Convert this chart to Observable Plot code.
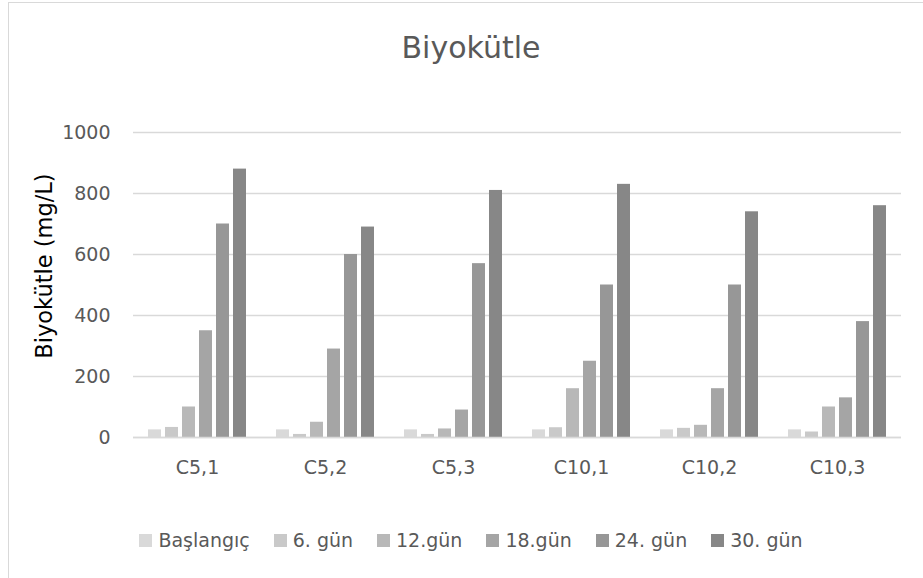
<!DOCTYPE html>
<html>
<head>
<meta charset="utf-8">
<script src="https://cdn.jsdelivr.net/npm/d3@7"></script>
<script src="https://cdn.jsdelivr.net/npm/@observablehq/plot@0.6"></script>
<style>
  html, body { margin: 0; padding: 0; background: #fff; }
  body { width: 923px; height: 578px; overflow: hidden; position: relative; font-family: "DejaVu Sans", sans-serif; }
  #chart { position: absolute; left: 8px; top: 2px; width: 924px; height: 600px; border: 1px solid #d9d9d9; background: #fff; }
  #title { position: absolute; left: 0; width: 100%; top: 26px; text-align: center; font-size: 30px; color: #595959; line-height: 38px; }
  #ytitle { position: absolute; left: 35px; top: 263px; transform: translate(-50%, -50%) rotate(-90deg); font-size: 22.5px; color: #000; white-space: nowrap; }
  #plot { position: absolute; left: 0; top: 97px; }
  #legend { position: absolute; left: 0; width: 100%; top: 524px; display: flex; justify-content: center; gap: 24px; font-size: 19px; color: #595959; line-height: 26px; }
  #legend .item { display: flex; align-items: center; gap: 6px; }
  #legend .sw { width: 13px; height: 13px; display: inline-block; }
</style>
</head>
<body>
<div id="chart">
  <div id="title">Biyokütle</div>
  <div id="ytitle">Biyokütle (mg/L)</div>
  <div id="plot"></div>
  <div id="legend"></div>
</div>
<script>
// Samples (groups along the x axis)
const categories = ["C5,1", "C5,2", "C5,3", "C10,1", "C10,2", "C10,3"];
// Measurement days (one bar per day in each group)
const series = ["Başlangıç", "6. gün", "12.gün", "18.gün", "24. gün", "30. gün"];
// Biomass (mg/L) per day, in the order of categories
const baslangic = [25, 25, 25, 25, 25, 25];
const gun6 = [33, 10, 10, 32, 30, 18];
const gun12 = [100, 50, 28, 160, 40, 100];
const gun18 = [350, 290, 90, 250, 160, 130];
const gun24 = [700, 600, 570, 500, 500, 380];
const gun30 = [880, 690, 810, 830, 740, 760];
const yTicks = [0, 200, 400, 600, 800, 1000];
const colors = ["#d9d9d9", "#c9c9c9", "#b8b8b8", "#a5a5a5", "#979797", "#878787"];

const seriesValues = [baslangic, gun6, gun12, gun18, gun24, gun30];
const data = [];
categories.forEach((c, i) => {
  series.forEach((s, j) => {
    data.push({category: c, day: s, value: seriesValues[j][i]});
  });
});

const font = "DejaVu Sans, sans-serif";

const chart = Plot.plot({
  width: 923,
  height: 387,
  marginLeft: 122,
  marginRight: 29,
  marginTop: 32,
  marginBottom: 50,
  style: {fontFamily: font, fontSize: "19px", color: "#595959", background: "transparent"},
  fx: {domain: categories, paddingInner: 0, paddingOuter: 0, label: null},
  x: {domain: series, paddingInner: 0.22, paddingOuter: 0.867, axis: null},
  y: {domain: [0, 1000], label: null},
  color: {domain: series, range: colors},
  marks: [
    Plot.gridY(yTicks, {stroke: "#d9d9d9", strokeOpacity: 1, strokeWidth: 1.3}),
    Plot.barY(data, {fx: "category", x: "day", y: "value", fill: "day"}),
    Plot.ruleY([0], {stroke: "#d9d9d9", strokeWidth: 1.5}),
    Plot.axisY(yTicks, {tickSize: 0, tickPadding: 23, tickFormat: d => String(d), label: null, fill: "#595959"}),
    Plot.axisFx({anchor: "bottom", tickSize: 0, tickPadding: 23, label: null, fill: "#595959"})
  ]
});
document.getElementById("plot").appendChild(chart);

const legend = document.getElementById("legend");
series.forEach((s, j) => {
  const item = document.createElement("div");
  item.className = "item";
  const sw = document.createElement("span");
  sw.className = "sw";
  sw.style.background = colors[j];
  const label = document.createElement("span");
  label.textContent = s;
  item.appendChild(sw);
  item.appendChild(label);
  legend.appendChild(item);
});
</script>
</body>
</html>
